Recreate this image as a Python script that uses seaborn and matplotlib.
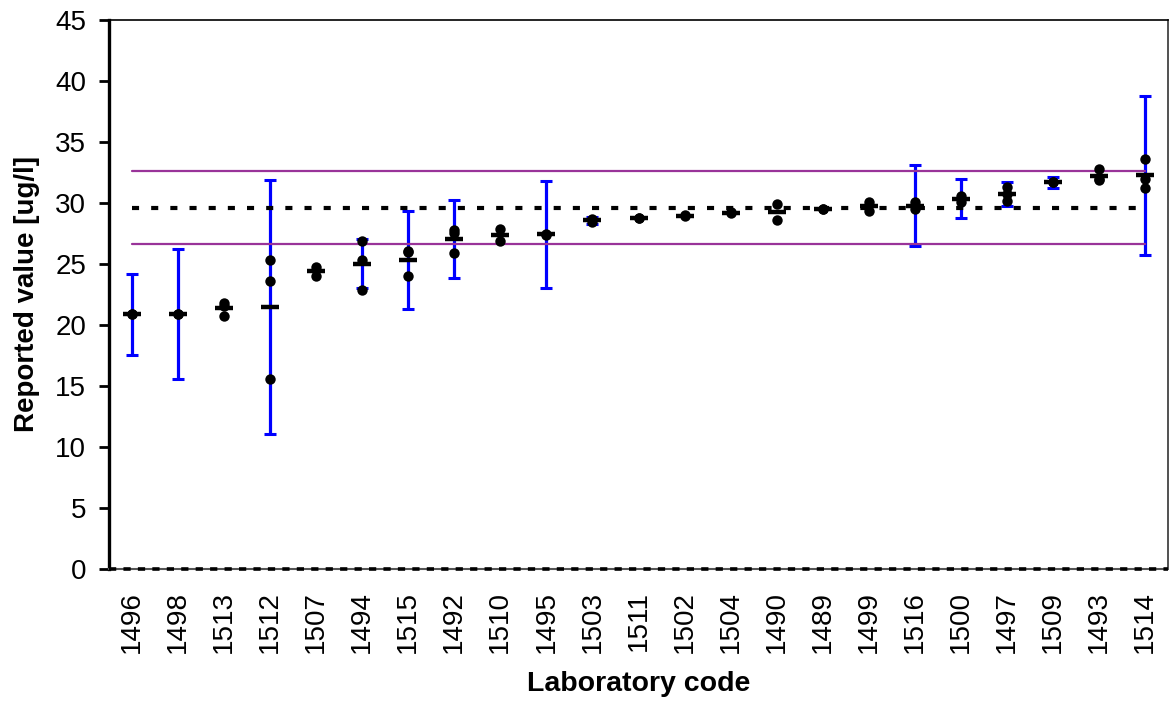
import numpy as np
import pandas as pd
import matplotlib
matplotlib.use("Agg")
import matplotlib.pyplot as plt
import seaborn as sns

# Laboratory codes, ordered by their mean result
labs = ["1496", "1498", "1513", "1512", "1507", "1494", "1515", "1492", "1510",
        "1495", "1503", "1511", "1502", "1504", "1490", "1489", "1499", "1516",
        "1500", "1497", "1509", "1493", "1514"]

# Replicate results per laboratory (ug/l); NaN where no replicate was reported
rep_a = [20.87, 20.90, 21.80, 25.30, 24.75, 26.90, 26.00, 27.80, 27.85, 27.45,
         28.70, 28.80, 29.00, 29.25, 29.90, 29.50, 30.10, 30.05, 30.60, 31.30,
         31.70, 32.80, 33.60]
rep_b = [20.87, 20.90, 20.75, 23.60, 24.05, 25.30, 26.05, 27.50, 26.85, 27.40,
         28.45, 28.80, 28.95, 29.15, 28.60, 29.50, 29.35, 29.50, 30.10, 30.75,
         31.70, 32.00, 32.00]
rep_c = [np.nan, np.nan, 21.55, 15.60, np.nan, 22.90, 24.00, 25.90, np.nan, np.nan,
         np.nan, np.nan, np.nan, np.nan, np.nan, np.nan, np.nan, np.nan, np.nan,
         30.20, np.nan, 31.90, 31.20]

# Expanded uncertainty reported with each mean (NaN = not reported)
uncertainty = [3.3, 5.3, np.nan, 10.4, np.nan, 2.0, 4.0, 3.2, np.nan, 4.4,
               0.3, np.nan, np.nan, np.nan, np.nan, np.nan, np.nan, 3.3,
               1.6, 1.0, 0.45, np.nan, 6.5]

# Assigned value and acceptance limits
assigned_value = 29.62
lower_limit = 26.68
upper_limit = 32.62

y_ticks = [0, 5, 10, 15, 20, 25, 30, 35, 40, 45]

df = pd.DataFrame({"lab": labs * 3, "value": rep_a + rep_b + rep_c}).dropna()
means = df.groupby("lab")["value"].mean().reindex(labs).to_numpy()

sns.set_style("white")
plt.rcParams["font.family"] = ["Liberation Sans", "DejaVu Sans"]
plt.rcParams["text.color"] = "black"
plt.rcParams["axes.labelcolor"] = "black"
plt.rcParams["xtick.color"] = "black"
plt.rcParams["ytick.color"] = "black"

fig = plt.figure(figsize=(11.69, 7.02), dpi=100)
ax = fig.add_axes([109 / 1169, 133 / 702, 1059 / 1169, 549 / 702])

pos = np.arange(len(labs))
unc = np.array(uncertainty, dtype=float)
has_unc = ~np.isnan(unc)

# Uncertainty bars
ax.errorbar(pos[has_unc], means[has_unc], yerr=unc[has_unc], fmt="none",
            ecolor="#0000FF", elinewidth=2.3, capsize=4.5, capthick=2.2, zorder=2)

# Reference lines: assigned value and limits
ax.plot([0, len(labs) - 1], [upper_limit] * 2, color="#993399", lw=1.6, zorder=3)
ax.plot([0, len(labs) - 1], [lower_limit] * 2, color="#993399", lw=1.6, zorder=3)
ax.plot([0, len(labs) - 1], [assigned_value] * 2, color="black", lw=3,
        dashes=(1.7, 2.9), zorder=3)
ax.plot([-0.5, len(labs) - 0.5], [0, 0], color="black", lw=2.6,
        dashes=(2.0, 2.0), zorder=3, clip_on=False)

# Individual replicates
sns.stripplot(data=df, x="lab", y="value", order=labs, jitter=False,
              color="black", size=7.5, linewidth=0, ax=ax, zorder=5)

# Laboratory means
sns.pointplot(data=df, x="lab", y="value", order=labs, estimator="mean",
              errorbar=None, markers="_", linestyle="none", color="black",
              markersize=13, markeredgewidth=3.2, ax=ax, zorder=6)

ax.set_xlim(-0.5, len(labs) - 0.5)
ax.set_ylim(0, 45)
ax.set_yticks(y_ticks)
ax.set_yticklabels([str(t) for t in y_ticks], fontsize=20)
ax.set_xticks(pos)
ax.set_xticklabels(labs, rotation=90, fontsize=20)

ax.tick_params(axis="y", direction="out", length=7.5, width=2, color="black",
               pad=9, left=True)
ax.tick_params(axis="x", length=0, pad=16)

ax.set_xlabel("Laboratory code", fontsize=20.5, fontweight="bold", labelpad=13)
ax.set_ylabel("Reported value [ug/l]", fontsize=20, fontweight="bold", labelpad=11)

for side, sp in ax.spines.items():
    sp.set_visible(True)
    sp.set_color("black")
ax.spines["left"].set_linewidth(2.4)
ax.spines["top"].set_linewidth(1.2)
ax.spines["right"].set_linewidth(1.2)
ax.spines["right"].set_color("#333333")
ax.spines["bottom"].set_linewidth(1.5)
ax.spines["bottom"].set_color("#555555")

fig.savefig("out.png", dpi=100, facecolor="white")
